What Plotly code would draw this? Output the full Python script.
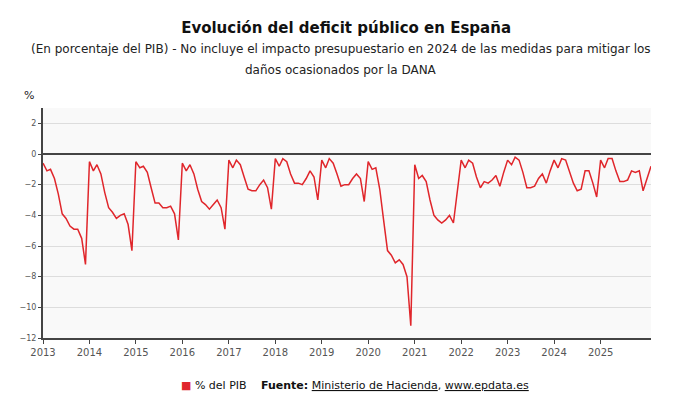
import plotly.graph_objects as go
import pandas as pd

# monthly deficit, % of GDP, Jan 2013 - Dec 2025, then last reading Feb 2026
v2013 = [-0.6, -1.1, -1.0, -1.6, -2.6, -3.9, -4.2, -4.7, -4.9, -4.9, -5.5, -7.2]
v2014 = [-0.5, -1.1, -0.7, -1.3, -2.5, -3.5, -3.8, -4.2, -4.0, -3.9, -4.6, -6.3]
v2015 = [-0.5, -0.9, -0.8, -1.2, -2.2, -3.2, -3.2, -3.5, -3.5, -3.4, -3.9, -5.6]
v2016 = [-0.6, -1.1, -0.7, -1.3, -2.3, -3.1, -3.3, -3.6, -3.3, -3.0, -3.5, -4.9]
v2017 = [-0.4, -0.9, -0.4, -0.7, -1.5, -2.3, -2.4, -2.4, -2.0, -1.7, -2.2, -3.6]
v2018 = [-0.3, -0.8, -0.3, -0.5, -1.3, -1.9, -1.9, -2.0, -1.6, -1.1, -1.5, -3.0]
v2019 = [-0.4, -0.9, -0.3, -0.6, -1.3, -2.1, -2.0, -2.0, -1.6, -1.3, -1.6, -3.1]
v2020 = [-0.5, -1.0, -0.9, -2.3, -4.3, -6.3, -6.6, -7.1, -6.9, -7.2, -8.0, -11.2]
v2021 = [-0.7, -1.6, -1.4, -1.8, -3.0, -4.0, -4.3, -4.5, -4.3, -4.0, -4.5, -2.4]
v2022 = [-0.4, -0.9, -0.4, -0.6, -1.5, -2.2, -1.8, -1.9, -1.7, -1.4, -2.1, -1.2]
v2023 = [-0.4, -0.7, -0.2, -0.4, -1.2, -2.2, -2.2, -2.1, -1.6, -1.3, -1.9, -1.1]
v2024 = [-0.4, -0.9, -0.3, -0.4, -1.1, -1.9, -2.4, -2.3, -1.1, -1.1, -1.9, -2.8]
v2025 = [-0.4, -0.9, -0.3, -0.3, -1.1, -1.8, -1.8, -1.7, -1.1, -1.2, -1.1, -2.4]
v_last = [-0.8]

values = v2013 + v2014 + v2015 + v2016 + v2017 + v2018 + v2019 + v2020 + v2021 + v2022 + v2023 + v2024 + v2025 + v_last
dates = list(pd.date_range("2013-01-01", "2025-12-01", freq="MS")) + [pd.Timestamp("2026-02-01")]
year_ticks = [f"{y}-01-01" for y in range(2013, 2026)]
year_labels = [str(y) for y in range(2013, 2026)]

fig = go.Figure(go.Scatter(
    x=dates, y=values, mode="lines", name="% del PIB",
    line=dict(color="#e0262b", width=1.5), showlegend=False,
))

sub1 = "(En porcentaje del PIB) - No incluye el impacto presupuestario en 2024 de las medidas para mitigar los"
sub2 = "daños ocasionados por la DANA"

fig.update_layout(
    width=690, height=414,
    margin=dict(l=35, r=47, t=100, b=84, autoexpand=False),
    paper_bgcolor="white", plot_bgcolor="#f9f9f9",
    font=dict(family="DejaVu Sans", size=9, color="#555"),
    title=dict(text="<b>Evolución del deficit público en España</b>", x=0.49, y=0.965,
               xanchor="center", yanchor="top", font=dict(size=15, color="#111")),
    annotations=[
        dict(text=sub1, xref="paper", yref="paper", x=0.49, y=1.255, xanchor="center",
             yanchor="middle", showarrow=False, font=dict(size=12, color="#222")),
        dict(text=sub2, xref="paper", yref="paper", x=0.49, y=1.165, xanchor="center",
             yanchor="middle", showarrow=False, font=dict(size=12, color="#222")),
        dict(text="%", xref="paper", yref="paper", x=-0.035, y=1.09, showarrow=False,
             font=dict(size=11, color="#222")),
        dict(text="<span style='color:#e0262b'>■</span> % del PIB", xref="paper", yref="paper",
             x=0.223, y=-0.205, xanchor="left", yanchor="middle", showarrow=False,
             font=dict(size=11, color="#111")),
        dict(text="<b>Fuente:</b> <u>Ministerio de Hacienda</u>, <u>www.epdata.es</u>",
             xref="paper", yref="paper", x=0.355, y=-0.205, xanchor="left", yanchor="middle",
             showarrow=False, font=dict(size=11, color="#111")),
    ],
)
fig.update_xaxes(
    range=["2013-01-01", "2026-02-01"], tickvals=year_ticks, ticktext=year_labels,
    ticks="outside", ticklen=4, tickcolor="#444", showgrid=False,
    showline=True, linecolor="#444", linewidth=2, tickfont=dict(size=10, color="#555"),
)
fig.update_yaxes(
    range=[-12, 3], dtick=2, showgrid=True, gridcolor="#dddddd",
    zeroline=True, zerolinecolor="#444", zerolinewidth=1.5,
    showline=True, linecolor="#444", linewidth=2, ticks="outside", ticklen=3,
    tickcolor="#444", tickfont=dict(size=8, color="#555"),
)

fig.write_html("out.html")
